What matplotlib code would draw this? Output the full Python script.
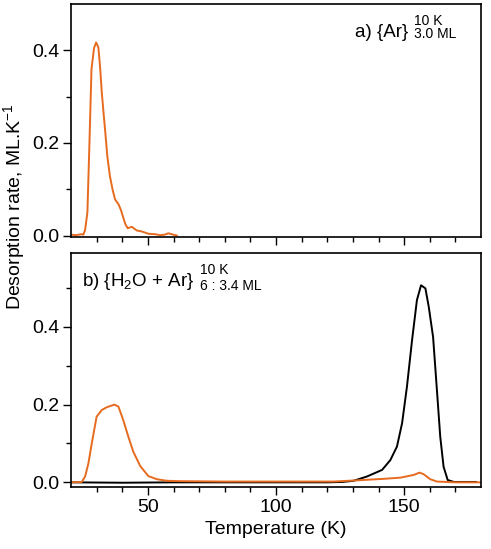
import numpy as np
import matplotlib
matplotlib.use("Agg")
import matplotlib.pyplot as plt

plt.rcParams['font.family'] = ['Liberation Sans', 'DejaVu Sans']
plt.rcParams['mathtext.fontset'] = 'custom'
plt.rcParams['mathtext.rm'] = 'Liberation Sans'
plt.rcParams['mathtext.it'] = 'Liberation Sans'

orange = '#E66B1E'

# panel a: pure Ar, 3.0 ML
t_ar = [20, 22, 24, 24.8, 25.5, 26.4, 27.2, 28, 29, 29.8, 30.7, 31.4, 32, 32.7, 33.3,
        34.2, 35.2, 36.2, 37.2, 38.5, 39.5, 40.4, 41.2, 42.1, 43.7, 45.7, 47.6, 50.2,
        52.8, 54.8, 56.5, 58, 60, 61.3]
r_ar = [0.002, 0.001, 0.003, 0.002, 0.012, 0.05, 0.2, 0.36, 0.405, 0.417, 0.406, 0.36,
        0.31, 0.265, 0.228, 0.17, 0.128, 0.1, 0.078, 0.068, 0.055, 0.039, 0.025, 0.016,
        0.019, 0.011, 0.009, 0.004, 0.003, 0.001, 0.002, 0.005, 0.002, 0.0]

# panel b: H2O + Ar mixture, Ar signal (orange) and H2O signal (black)
t_mix_ar = [20, 24.2, 25.5, 26.8, 28.1, 30, 32, 33.9, 36.9, 38.5, 40.4, 42.4, 44.3, 47,
            50.2, 53.5, 57.4, 62.6, 80, 100, 122.5, 134, 142, 148.5, 153.7, 156, 157.6,
            160.2, 162.8, 170, 180]
r_mix_ar = [0.0, 0.001, 0.015, 0.049, 0.1, 0.169, 0.186, 0.193, 0.2, 0.195, 0.16, 0.117,
            0.079, 0.042, 0.016, 0.008, 0.004, 0.003, 0.002, 0.002, 0.002, 0.006, 0.009,
            0.012, 0.019, 0.025, 0.021, 0.008, 0.002, 0.0, 0.0]

t_h2o = [20, 40, 60, 80, 100, 120, 126, 130.3, 135.5, 141.4, 144.6, 147.2, 149.2, 151.1,
         153.1, 155, 156.6, 158.3, 159.6, 161.3, 162.8, 164.1, 165.4, 167, 169.4, 178]
r_h2o = [0.0, -0.001, 0.0, 0.0, 0.0, 0.0, 0.001, 0.004, 0.015, 0.032, 0.057, 0.092,
         0.152, 0.246, 0.366, 0.469, 0.507, 0.499, 0.452, 0.374, 0.237, 0.117, 0.04,
         0.006, 0.001, 0.001]

fig = plt.figure(figsize=(4.91, 5.49), dpi=100)
ax1 = fig.add_axes([71/491, 1-237/549, 410/491, 233/549])
ax2 = fig.add_axes([71/491, 1-487/549, 410/491, 234/549])

ax1.plot(t_ar, r_ar, color=orange, lw=1.4)
ax2.plot(t_h2o, r_h2o, color='black', lw=1.4)
ax2.plot(t_mix_ar, r_mix_ar, color=orange, lw=1.4)

ax1.set_ylim(-0.003, 0.5)
ax2.set_ylim(-0.012, 0.59)

for ax in (ax1, ax2):
    ax.set_xlim(20, 180)
    ax.set_xticks([50, 100, 150])
    ax.set_xticks(np.arange(30, 180, 10), minor=True)
    ax.set_yticks([0.0, 0.2, 0.4])
    ax.set_yticks([0.1, 0.3, 0.5], minor=True)
    ax.yaxis.set_major_formatter(plt.FormatStrFormatter('%.1f'))
    ax.tick_params(direction='out', length=5.5, width=1, labelsize=14, pad=3,
                   top=False, right=False)
    ax.tick_params(which='minor', direction='out', length=3.5, width=1)
    for s in ax.spines.values():
        s.set_linewidth(1.2)

ax1.set_yticks([0.1, 0.3], minor=True)
ax1.tick_params(labelbottom=False)
ax2.set_xlabel('Temperature (K)', fontsize=14, labelpad=4)

fig.text(14/491, 1-207/549, 'Desorption rate, ML.K$^{-1}$', rotation=90,
         ha='center', va='center', fontsize=14)

# panel labels
fig.text(355/491, 1-37/549, 'a) {Ar}', fontsize=13.5, va='baseline')
fig.text(414/491, 1-25/549, '10 K', fontsize=10, va='baseline')
fig.text(414/491, 1-38/549, '3.0 ML', fontsize=10, va='baseline')

fig.text(82/491, 1-286/549, 'b) {H$_2$O + Ar}', fontsize=13.5, va='baseline')
fig.text(200/491, 1-274/549, '10 K', fontsize=10, va='baseline')
fig.text(200/491, 1-290/549, '6 : 3.4 ML', fontsize=10, va='baseline')

fig.savefig('out.png', dpi=100)
